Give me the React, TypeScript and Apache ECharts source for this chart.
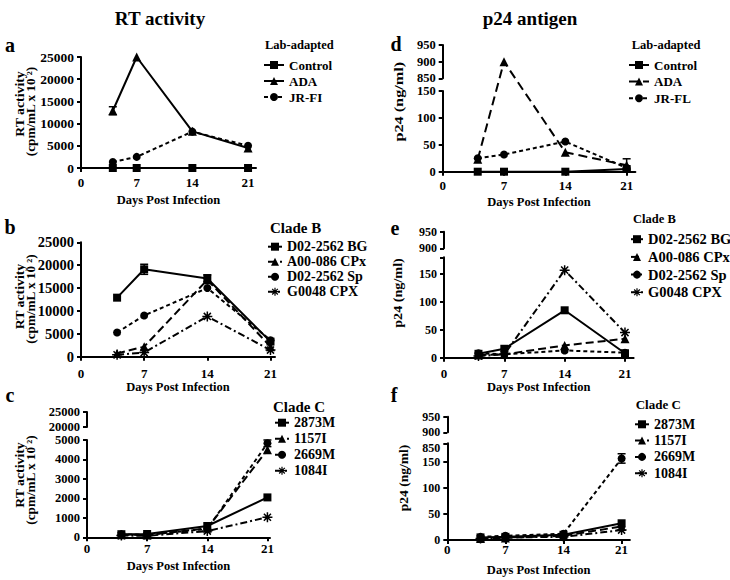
import React, { useEffect, useRef } from "react";
import * as echarts from "echarts";

const FONT = '"Liberation Serif", "Times New Roman", Times, serif';

// ---------------- data ----------------
const days = [4, 7, 14, 21];
const dayTicks = [0, 7, 14, 21];

// a : RT activity, lab-adapted
const aNames = ["Control", "ADA", "JR-FI"];
const aControl = [0, 0, 0, 0];
const aADA = [12900, 25000, 8250, 4500];
const aJRFI = [1350, 2500, 8200, 5000];
const aErr = [[4, 12000, 13800]];

// b : RT activity, clade B
const bNames = ["D02-2562 BG", "A00-086 CPx", "D02-2562 Sp", "G0048 CPX"];
const bBG = [12900, 19100, 17100, 3300];
const bCPx = [700, 2200, 16800, 2200];
const bSp = [5300, 9000, 15000, 3600];
const bG48 = [400, 900, 8800, 1450];
const bErr = [[7, 18000, 20200], [14, 16400, 17900]];

// c : RT activity, clade C
const cNames = ["2873M", "1157I", "2669M", "1084I"];
const c2873M = [160, 170, 580, 2050];
const c1157I = [130, 120, 460, 4500];
const c2669M = [150, 130, 430, 4830];
const c1084I = [90, 80, 320, 1030];
const cErr = [[21, 4660, 5000]];

// d : p24, lab-adapted
const dNames = ["Control", "ADA", "JR-FL"];
const dControl = [0, 0, 0, 5];
const dADA = [23, 900, 36, 12];
const dJRFL = [25, 32, 56, 7];
const dErr = [[21, 2, 24]];

// e : p24, clade B
const eNames = ["D02-2562 BG", "A00-086 CPx", "D02-2562 Sp", "G0048 CPX"];
const eBG = [7, 16, 85, 8];
const eCPx = [5, 6, 22, 34];
const eSp = [8, 6, 13, 9];
const eG48 = [3, 6, 157, 45];
const eErr: number[][] = [];

// f : p24, clade C
const fNames = ["2873M", "1157I", "2669M", "1084I"];
const f2873M = [5, 6, 10, 32];
const f1157I = [3, 4, 8, 26];
const f2669M = [6, 8, 12, 156];
const f1084I = [3, 5, 6, 19];
const fErr = [[21, 147, 165]];

// ticks / tick labels of the lower segments of the broken p24 axes
const eLowTicks = [0, 50, 100, 150, 180];
const eLowLabels = [0, 50, 100, 150, 171];
const fLowTicks = [0, 50, 100, 150, 185];
const fLowLabels = [0, 50, 100, 150, 176];
const capLabel = "850";

// ---------------- styles ----------------
const STAR =
  "path://M0 8.5L20 8.5L20 11.5L0 11.5Z M8.5 0L11.5 0L11.5 20L8.5 20Z M3.96 1.84L18.16 16.04L16.04 18.16L1.84 3.96Z M1.84 16.04L16.04 1.84L18.16 3.96L3.96 18.16Z";
const MARKS: Record<string, { symbol: string; size: number }> = {
  square: { symbol: "rect", size: 8 },
  triangle: { symbol: "triangle", size: 9 },
  circle: { symbol: "circle", size: 8 },
  star: { symbol: STAR, size: 10 },
};
const SOLID = "solid";
const LONG = [8, 4];
const DOT = [4, 3];
const DASHDOT = [7, 3, 2, 3];

type Panel = {
  key: string;
  names: string[];
  values: number[][];
  marks: string[];
  dashes: any[];
  errors: number[][];
  grid: { left: number; top: number; width: number; height: number };
  xMax: number;
  yMax: number;
  yInterval: number;
  yTicks?: number[];
  yLabels?: number[];
  upper?: { top: number; height: number; min: number; max: number; interval: number };
  brokenData?: boolean;
  xLabelMargin: number;
  xNameGap: number;
  yFont: number;
  legend: { left: number; top: number; itemWidth: number; gap: number; font: number };
};

const panels: Panel[] = [
  {
    key: "a", names: aNames, values: [aControl, aADA, aJRFI],
    marks: ["square", "triangle", "circle"], dashes: [SOLID, SOLID, DOT], errors: aErr,
    grid: { left: 81, top: 57, width: 175, height: 111 }, xMax: 22, yMax: 25000, yInterval: 5000,
    xLabelMargin: 8, xNameGap: 25, yFont: 13.5,
    legend: { left: 263, top: 58.5, itemWidth: 20, gap: 3, font: 13 },
  },
  {
    key: "b", names: bNames, values: [bBG, bCPx, bSp, bG48],
    marks: ["square", "triangle", "circle", "star"], dashes: [SOLID, LONG, DOT, DASHDOT], errors: bErr,
    grid: { left: 81, top: 242.3, width: 194, height: 114.4 }, xMax: 21.5, yMax: 25000, yInterval: 5000,
    xLabelMargin: 10, xNameGap: 23.5, yFont: 14.5,
    legend: { left: 267, top: 239.7, itemWidth: 14, gap: 1, font: 14 },
  },
  {
    key: "c", names: cNames, values: [c2873M, c1157I, c2669M, c1084I],
    marks: ["square", "triangle", "circle", "star"], dashes: [SOLID, LONG, DOT, DASHDOT], errors: cErr,
    grid: { left: 87, top: 440, width: 183, height: 97.3 }, xMax: 21.3, yMax: 5000, yInterval: 1000,
    upper: { top: 412, height: 15, min: 20000, max: 25000, interval: 5000 },
    xLabelMargin: 4.5, xNameGap: 22.5, yFont: 12.5,
    legend: { left: 274, top: 415.7, itemWidth: 14, gap: 2, font: 14 },
  },
  {
    key: "d", names: dNames, values: [dControl, dADA, dJRFL],
    marks: ["square", "triangle", "circle"], dashes: [SOLID, [9, 5], DOT], errors: dErr,
    grid: { left: 442.7, top: 91, width: 192.7, height: 80.7 }, xMax: 22, yMax: 150, yInterval: 50,
    upper: { top: 45, height: 33.3, min: 850, max: 950, interval: 50 }, brokenData: true,
    xLabelMargin: 7, xNameGap: 23.5, yFont: 12.5,
    legend: { left: 628, top: 58.5, itemWidth: 20, gap: 3.6, font: 13 },
  },
  {
    key: "e", names: eNames, values: [eBG, eCPx, eSp, eG48],
    marks: ["square", "triangle", "circle", "star"], dashes: [SOLID, LONG, DOT, DASHDOT], errors: eErr,
    grid: { left: 444, top: 257.3, width: 189.6, height: 100.4 }, xMax: 22, yMax: 180, yInterval: 50,
    yTicks: eLowTicks, yLabels: eLowLabels,
    upper: { top: 231.7, height: 16.6, min: 900, max: 950, interval: 50 },
    xLabelMargin: 9, xNameGap: 22.5, yFont: 12,
    legend: { left: 630, top: 231.7, itemWidth: 12, gap: 2.7, font: 14.5 },
  },
  {
    key: "f", names: fNames, values: [f2873M, f1157I, f2669M, f1084I],
    marks: ["square", "triangle", "circle", "star"], dashes: [SOLID, LONG, DOT, DASHDOT], errors: fErr,
    grid: { left: 447.3, top: 443.3, width: 182.6, height: 96.7 }, xMax: 22, yMax: 185, yInterval: 50,
    yTicks: fLowTicks, yLabels: fLowLabels,
    upper: { top: 416.7, height: 15.6, min: 900, max: 950, interval: 50 },
    xLabelMargin: 3, xNameGap: 23.5, yFont: 12,
    legend: { left: 634, top: 417.3, itemWidth: 14, gap: 2.3, font: 14 },
  },
];

const txt = (text: string, x: number, y: number, size: number, align = "left", rotation = 0, scaleX = 1) => ({
  type: "text",
  x, y, rotation, scaleX, silent: true,
  style: {
    text, fill: "#000", fontFamily: FONT, fontWeight: "bold", fontSize: size,
    textAlign: align, textVerticalAlign: "middle", align, verticalAlign: "middle",
  },
});

const R90 = Math.PI / 2;
const texts = [
  txt("RT activity", 160, 18, 19, "center"),
  txt("p24 antigen", 530, 18, 19, "center"),
  txt("a", 10, 45, 20, "center"),
  txt("b", 10, 227, 20, "center"),
  txt("c", 10, 395, 20, "center"),
  txt("d", 396, 44, 20, "center"),
  txt("e", 395, 228, 20, "center"),
  txt("f", 394, 395, 20, "center"),
  txt("Lab-adapted", 265, 45, 12.5),
  txt("Clade B", 270, 228, 15),
  txt("Clade C", 273, 406.7, 15),
  txt("Lab-adapted", 631.7, 45, 12.5),
  txt("Clade B", 633, 219, 12.5),
  txt("Clade C", 635.7, 404, 13),
  txt("RT activity", 20, 104, 11.5, "center", R90, 1.2),
  txt("(cpm/mL x 10 \u00b2)", 31.5, 111.5, 11.5, "center", R90, 1.15),
  txt("RT activity", 20, 296.5, 11.5, "center", R90, 1.2),
  txt("(cpm/mL x 10 \u00b2)", 31.5, 299, 11.5, "center", R90, 1.15),
  txt("RT activity", 20, 475, 11.5, "center", R90, 1.2),
  txt("(cpm/mL x 10 \u00b2)", 31.5, 480, 11.5, "center", R90, 1.15),
  txt("p24 (ng/ml)", 398.3, 101.7, 13, "center", R90, 1.25),
  txt("p24 (ng/ml)", 398.3, 293, 12, "center", R90, 1.18),
  txt("p24 (ng/ml)", 404.3, 478, 12, "center", R90, 1.13),
];

const axisLine = { show: true, onZero: false, lineStyle: { color: "#000", width: 2 } };
const axisTick = { show: true, length: 4, lineStyle: { color: "#000", width: 2 } };
const lbl = (size: number, margin: number) => ({
  color: "#000", fontFamily: FONT, fontWeight: "bold", fontSize: size, margin,
  formatter: (v: number) => String(v),
});

const errRender = (params: any, api: any) => {
  const x = api.value(0), lo = api.value(1), hi = api.value(2);
  const a = api.coord([x, lo]);
  const b = api.coord([x, hi]);
  const w = 4;
  const st = { stroke: "#000", lineWidth: 1.5 };
  return {
    type: "group",
    children: [
      { type: "line", shape: { x1: a[0], y1: a[1], x2: b[0], y2: b[1] }, style: st },
      { type: "line", shape: { x1: a[0] - w, y1: a[1], x2: a[0] + w, y2: a[1] }, style: st },
      { type: "line", shape: { x1: b[0] - w, y1: b[1], x2: b[0] + w, y2: b[1] }, style: st },
    ],
  };
};

function buildOption() {
  const grids: any[] = [];
  const xAxes: any[] = [];
  const yAxes: any[] = [];
  const series: any[] = [];
  const legends: any[] = [];
  const addGrid = (g: any) => {
    grids.push({ ...g });
    return grids.length - 1;
  };

  panels.forEach((p) => {
    const gi = addGrid(p.grid);
    xAxes.push({
      type: "value", gridIndex: gi, min: 0, max: p.xMax, interval: 7,
      axisLine, splitLine: { show: false },
      axisTick: { ...axisTick, customValues: dayTicks },
      axisLabel: { ...lbl(13, p.xLabelMargin), customValues: dayTicks },
      name: "Days Post Infection", nameLocation: "middle", nameGap: p.xNameGap,
      nameTextStyle: { color: "#000", fontFamily: FONT, fontWeight: "bold", fontSize: 12.5 },
    });
    const yLabel: any = { ...lbl(p.yFont, 7) };
    const yTick: any = { ...axisTick };
    if (p.yTicks && p.yLabels) {
      const capAt = p.yLabels[p.yLabels.length - 1];
      yLabel.customValues = p.yLabels;
      yLabel.formatter = (v: number) => (v === capAt ? capLabel : String(v));
      yTick.customValues = p.yTicks;
    }
    yAxes.push({
      type: "value", gridIndex: gi, min: 0, max: p.yMax, interval: p.yInterval,
      axisLine, axisTick: yTick, axisLabel: yLabel, splitLine: { show: false },
    });

    let dataIdx = gi;
    let tf = (v: number) => v;
    if (p.upper) {
      const u = p.upper;
      const ui = addGrid({ left: p.grid.left, top: u.top, width: p.grid.width, height: u.height });
      xAxes.push({ type: "value", gridIndex: ui, min: 0, max: p.xMax, show: false });
      yAxes.push({
        type: "value", gridIndex: ui, min: u.min, max: u.max, interval: u.interval,
        axisLine, axisTick, axisLabel: lbl(p.yFont, 7), splitLine: { show: false },
      });
      if (p.brokenData) {
        const lowBottom = p.grid.top + p.grid.height;
        const upBottom = u.top + u.height;
        const h = lowBottom - u.top;
        const di = addGrid({ left: p.grid.left, top: u.top, width: p.grid.width, height: h });
        xAxes.push({ type: "value", gridIndex: di, min: 0, max: p.xMax, show: false });
        yAxes.push({ type: "value", gridIndex: di, min: 0, max: h, show: false });
        dataIdx = di;
        tf = (v: number) =>
          v <= p.yMax
            ? (v / p.yMax) * p.grid.height
            : lowBottom - upBottom + ((v - u.min) / (u.max - u.min)) * u.height;
      }
    }

    p.names.forEach((n, i) => {
      const m = MARKS[p.marks[i]];
      series.push({
        type: "line",
        name: p.key + "|" + n,
        xAxisIndex: dataIdx,
        yAxisIndex: dataIdx,
        data: days.map((d, j) => [d, tf(p.values[i][j])]),
        symbol: m.symbol,
        symbolSize: m.size,
        showAllSymbol: true,
        clip: false,
        z: 3,
        lineStyle: { color: "#000", width: 2, type: p.dashes[i] },
        itemStyle: { color: "#000", borderWidth: 0 },
        emphasis: { disabled: true },
        silent: true,
      });
    });
    if (p.errors.length) {
      series.push({
        type: "custom",
        name: p.key + "|err",
        xAxisIndex: dataIdx,
        yAxisIndex: dataIdx,
        data: p.errors.map((e) => [e[0], tf(e[1]), tf(e[2])]),
        encode: { x: 0, y: [1, 2] },
        renderItem: errRender,
        silent: true,
        clip: false,
        z: 2,
      });
    }
    legends.push({
      left: p.legend.left,
      top: p.legend.top,
      orient: "vertical",
      padding: 0,
      itemWidth: p.legend.itemWidth,
      itemHeight: 10,
      itemGap: p.legend.gap,
      selectedMode: false,
      data: p.names.map((n) => p.key + "|" + n),
      formatter: (name: string) => name.split("|")[1],
      textStyle: { color: "#000", fontFamily: FONT, fontWeight: "bold", fontSize: p.legend.font },
    });
  });

  return {
    animation: false,
    backgroundColor: "#fff",
    textStyle: { fontFamily: FONT },
    grid: grids,
    xAxis: xAxes,
    yAxis: yAxes,
    series,
    legend: legends,
    graphic: texts,
  };
}

export default function App() {
  const ref = useRef<HTMLDivElement>(null);
  useEffect(() => {
    if (!ref.current) return;
    const chart = echarts.init(ref.current, undefined, { renderer: "svg" });
    chart.setOption(buildOption() as any);
    return () => chart.dispose();
  }, []);
  return (
    <div
      ref={ref}
      style={{ position: "absolute", left: 0, top: 0, width: 730, height: 580, background: "#fff" }}
    />
  );
}
